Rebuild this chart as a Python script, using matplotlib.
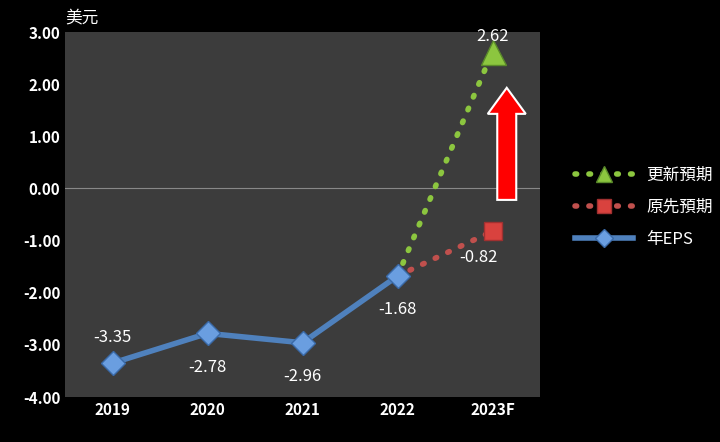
import matplotlib
matplotlib.use("Agg")
import matplotlib.pyplot as plt
from matplotlib.patches import FancyArrow
from matplotlib.lines import Line2D

plt.rcParams['font.family'] = ['Noto Sans CJK TC', 'DejaVu Sans']

years = ["2019", "2020", "2021", "2022", "2023F"]
eps = [-3.35, -2.78, -2.96, -1.68]
orig = [-1.68, -0.82]
upd = [-1.68, 2.62]

fig = plt.figure(figsize=(7.2, 4.42), dpi=100, facecolor='black')
ax = fig.add_axes([65/720, 45/442, 475/720, 365/442])
ax.set_facecolor('#3c3c3c')
x = list(range(5))
ax.set_xlim(-0.5, 4.5)
ax.set_ylim(-4, 3)
ax.set_yticks([3, 2, 1, 0, -1, -2, -3, -4])
ax.set_yticklabels([f"{v:.2f}" for v in [3, 2, 1, 0, -1, -2, -3, -4]])
ax.set_xticks(x)
ax.set_xticklabels(years)
ax.tick_params(colors='white', labelsize=11, length=0)
for lab in ax.get_xticklabels() + ax.get_yticklabels():
    lab.set_fontweight('bold')
for s in ax.spines.values():
    s.set_visible(False)
ax.axhline(0, color='#888888', lw=0.8)

ax.plot(x[3:], upd, ls=(0, (0.3, 2.2)), color='#8cc63f', lw=4, dash_capstyle='round')
ax.plot([4], [upd[1]], marker='^', ms=18, color='#8cc63f', mec='#5a8a2a', ls='none')
ax.plot(x[3:], orig, ls=(0, (0.3, 2.2)), color='#c0504d', lw=4, dash_capstyle='round')
ax.plot([4], [orig[1]], marker='s', ms=13, color='#d9423e', mec='#a03030', ls='none')
ax.plot(x[:4], eps, color='#4f81bd', lw=4, marker='D', ms=12, mfc='#6a9ee0', mec='#3a6aa8')

h = [Line2D([], [], ls=(0, (0.3, 2.2)), lw=4, color='#8cc63f', dash_capstyle='round',
            marker='^', ms=12, mfc='#8cc63f', mec='#5a8a2a'),
     Line2D([], [], ls=(0, (0.3, 2.2)), lw=4, color='#c0504d', dash_capstyle='round',
            marker='s', ms=10, mfc='#d9423e', mec='#a03030'),
     Line2D([], [], lw=4, color='#4f81bd', marker='D', ms=9, mfc='#6a9ee0', mec='#3a6aa8')]
fig.legend(h, ['更新預期', '原先預期', '年EPS'], loc='upper left',
           bbox_to_anchor=(560/720, 290/442), frameon=False, fontsize=12,
           labelcolor='white', handlelength=3.5, labelspacing=0.9)

labels = [(0, -3.35, 0.5), (1, -2.78, -0.65), (2, -2.96, -0.65), (3, -1.68, -0.65)]
for xi, v, off in labels:
    ax.text(xi, v + off, f"{v:.2f}", color='white', ha='center', va='center', fontsize=12)
ax.text(4, 2.62 + 0.3, "2.62", color='white', ha='center', va='center', fontsize=12)
ax.text(3.85, -0.82 - 0.5, "-0.82", color='white', ha='center', va='center', fontsize=12)

ax.add_patch(FancyArrow(4.15, -0.22, 0, 2.15, width=0.2, head_width=0.4, head_length=0.5,
                        length_includes_head=True, fc='#ff0000', ec='white', lw=1.5, zorder=5))

fig.text(65/720, 432/442, "美元", color='white', fontsize=12, ha='left', va='top')
fig.savefig("out.png", facecolor='black')
